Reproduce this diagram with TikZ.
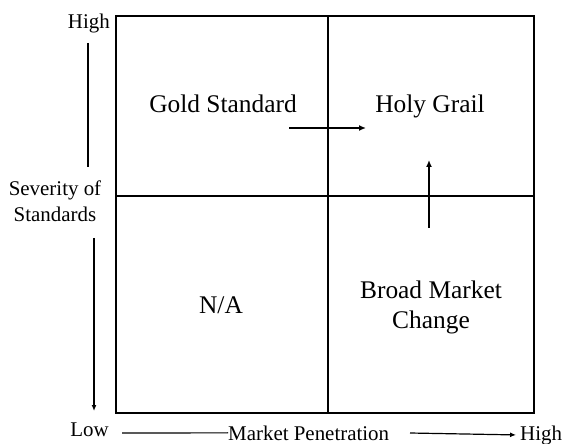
\documentclass[tikz,border=0pt]{standalone}
\usepackage{fontspec}
\setmainfont{Liberation Serif}
\usetikzlibrary{arrows.meta}
\begin{document}
\begin{tikzpicture}[x=1bp,y=-1bp,
  quad/.style={font=\fontsize{25.5}{30}\selectfont, inner sep=0pt, anchor=base},
  axis/.style={font=\fontsize{21}{26}\selectfont, inner sep=0pt},
  frame/.style={line width=2.2pt},
  divider/.style={line width=1.5pt},
  arr/.style={line width=1.4pt, -{Latex[length=7pt,width=6pt]}},
  axarr/.style={line width=1.2pt, -{Latex[length=6pt,width=5pt]}},
  axline/.style={line width=1.2pt}]
\useasboundingbox (0,0) rectangle (566,444);
% frame and dividers
\coordinate (TL) at (116,16);
\coordinate (BR) at (534,413);
\draw[frame] (TL) rectangle (BR);
\coordinate (vt) at (328,16);
\coordinate (vb) at (328,413);
\coordinate (hl) at (116,196);
\coordinate (hr) at (534,196);
\draw[divider] (vt) -- (vb);
\draw[divider] (hl) -- (hr);
% quadrant labels
\node[quad] (gold) at (223,113) {Gold Standard};
\node[quad] (grail) at (430,113) {Holy Grail};
\node[quad] (na) at (221,313) {N/A};
\node[quad] (broad) at (431,298) {Broad Market};
\node[quad] (change) at (431,328) {Change};
% inner arrows
\coordinate (ha1) at (289,128);
\coordinate (ha2) at (366,128);
\draw[arr] (ha1) -- (ha2);
\coordinate (va1) at (429,228);
\coordinate (va2) at (429,160);
\draw[arr] (va1) -- (va2);
% vertical axis
\node[axis, anchor=base east] (yhigh) at (110,29) {High};
\node[axis, anchor=base] (ylab1) at (55,196) {Severity of};
\node[axis, anchor=base] (ylab2) at (55,222) {Standards};
\node[axis, anchor=base east] (ylow) at (109,436) {Low};
\coordinate (yl1) at (88,43);
\coordinate (yl2) at (88,167);
\draw[axline] (yl1) -- (yl2);
\coordinate (yd1) at (94,238);
\coordinate (yd2) at (94,411);
\draw[axarr] (yd1) -- (yd2);
% horizontal axis
\node[axis, anchor=base west] (xlab) at (228,440) {Market Penetration};
\node[axis, anchor=base west] (xhigh) at (520,440) {High};
\coordinate (xl1) at (122,433);
\draw[axline] (xl1) -- (xlab.west);
\coordinate (xa1) at (410,433);
\draw[axarr, shorten >=4bp] (xa1) -- (xhigh.west);
\end{tikzpicture}
\end{document}
